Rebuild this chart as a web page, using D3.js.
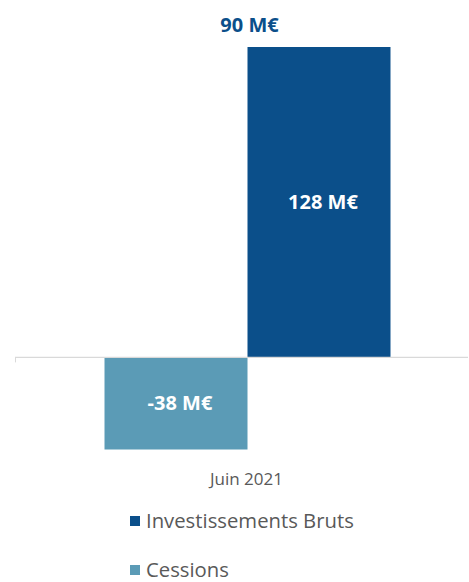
<!DOCTYPE html>
<html><head><meta charset="utf-8">
<script src="https://cdn.jsdelivr.net/npm/d3@7"></script>
<style>body{margin:0;background:#fff}svg{display:block}</style>
</head><body>
<script>
const categories = ["Juin 2021"];
const seriesNames = ["Cessions", "Investissements Bruts"];
const cessions = [-38];
const investissements = [128];
const totals = [90];
const legendOrder = ["Investissements Bruts", "Cessions"];

const W = 469, H = 582;
const colors = {"Investissements Bruts": "#0b4f8a", "Cessions": "#5b9bb6"};
const font = "'Open Sans', sans-serif";

const svg = d3.select("body").append("svg").attr("width", W).attr("height", H);

const x = d3.scaleBand().domain(categories).range([26, 469]).paddingInner(0).paddingOuter(0.2745);
const xs = d3.scaleBand().domain(seriesNames).range([0, x.bandwidth()]);
const y = d3.scaleLinear().domain([-38, 128]).range([449.5, 47]);

const rows = [];
categories.forEach((c, i) => {
  rows.push({cat: c, s: "Cessions", v: cessions[i]});
  rows.push({cat: c, s: "Investissements Bruts", v: investissements[i]});
});

svg.selectAll("rect.bar").data(rows).join("rect").attr("class", "bar")
  .attr("x", d => x(d.cat) + xs(d.s))
  .attr("width", xs.bandwidth())
  .attr("y", d => y(Math.max(0, d.v)))
  .attr("height", d => Math.abs(y(d.v) - y(0)))
  .attr("fill", d => colors[d.s]);

// baseline axis
svg.append("line").attr("x1", 15).attr("x2", 468).attr("y1", y(0)).attr("y2", y(0))
  .attr("stroke", "#d9d9d9").attr("stroke-width", 1.3);
svg.append("line").attr("x1", 15.5).attr("x2", 15.5).attr("y1", y(0)).attr("y2", y(0) + 5)
  .attr("stroke", "#d9d9d9").attr("stroke-width", 1);

// value labels
svg.selectAll("text.val").data(rows).join("text").attr("class", "val")
  .attr("x", d => x(d.cat) + xs(d.s) + xs.bandwidth() / 2 + 4)
  .attr("y", d => (y(d.v) + y(0)) / 2 + 7)
  .attr("text-anchor", "middle").attr("fill", "#fff")
  .attr("font-family", font).attr("font-weight", "bold").attr("font-size", 20)
  .text(d => d.v + " M€");

// totals
svg.selectAll("text.tot").data(categories).join("text").attr("class", "tot")
  .attr("x", (d) => x(d) + x.bandwidth() / 2 + 2)
  .attr("y", 32)
  .attr("text-anchor", "middle").attr("fill", "#0b4f8a")
  .attr("font-family", font).attr("font-weight", "bold").attr("font-size", 20)
  .text((d, i) => totals[i] + " M€");

// category label
svg.selectAll("text.cat").data(categories).join("text").attr("class", "cat")
  .attr("x", d => x(d) + x.bandwidth() / 2 - 1)
  .attr("y", 485)
  .attr("text-anchor", "middle").attr("fill", "#595959")
  .attr("font-family", font).attr("font-size", 17)
  .text(d => d);

// legend
const lg = svg.selectAll("g.lg").data(legendOrder).join("g").attr("class", "lg")
  .attr("transform", (d, i) => `translate(130, ${516 + i * 49})`);
lg.append("rect").attr("width", 10).attr("height", 10).attr("fill", d => colors[d]);
lg.append("text").attr("x", 16).attr("y", 12)
  .attr("fill", "#595959").attr("font-family", font).attr("font-size", 20.3)
  .text(d => d);
</script>
</body></html>
